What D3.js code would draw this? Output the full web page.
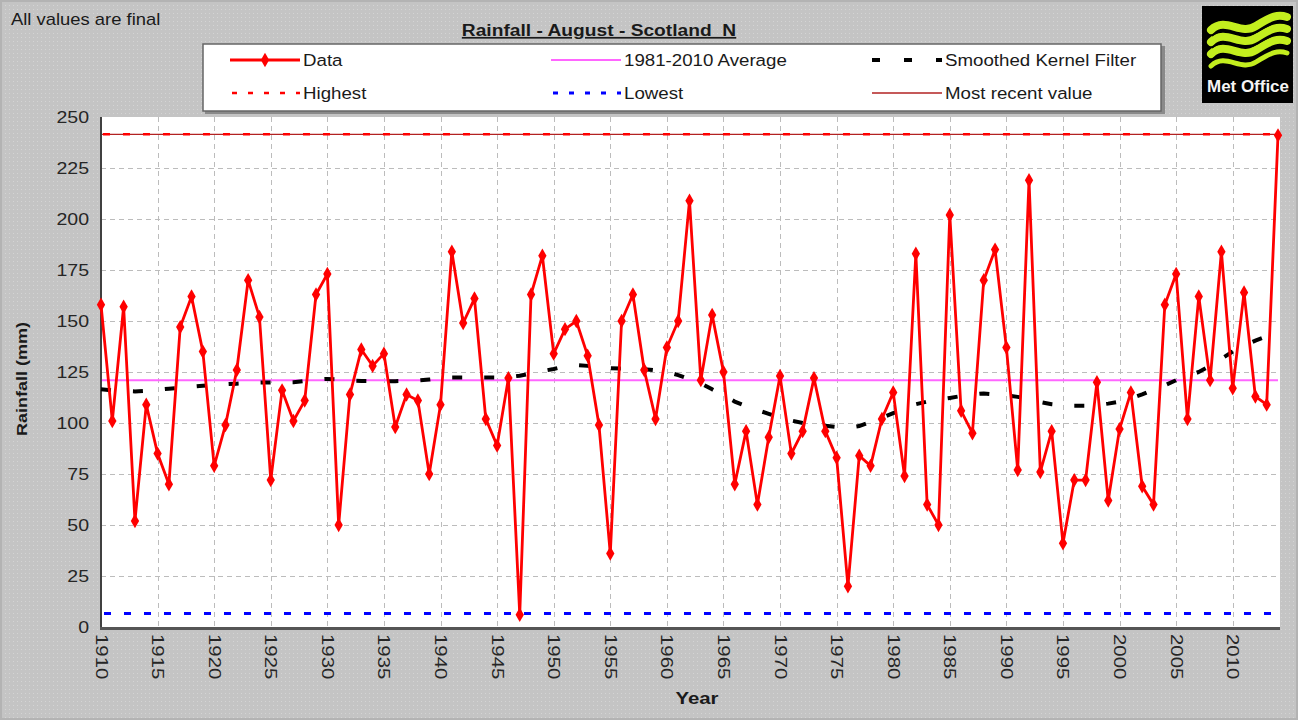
<!DOCTYPE html>
<html><head><meta charset="utf-8">
<script src="https://cdn.jsdelivr.net/npm/d3@7"></script>
<style>
body{margin:0;background:#c4c4c4;}
svg{display:block;font-family:"Liberation Sans",Arial,sans-serif;}
</style>
</head><body>
<svg id="c" width="1298" height="720"></svg>
<script>
// ---------- data ----------
const years = d3.range(1910, 2015);
const rainfall = [
 158,101,157, 52,109, 85, 70,147,162,135,
  79, 99,126,170,152, 72,116,101,111,163,
 173, 50,114,136,128,134, 98,114,111, 75,
 109,184,149,161,102, 89,122,  6,163,182,
 134,146,150,133, 99, 36,150,163,126,102,
 137,150,209,121,153,125, 70, 96, 60, 93,
 123, 85, 96,122, 96, 83, 20, 84, 79,102,
 115, 74,183, 60, 50,202,106, 95,170,185,
 137, 77,219, 76, 96, 41, 72, 72,120, 62,
  97,115, 69, 60,158,173,102,162,121,184,
 117,164,113,109,241
];
const smoothed = [
 116.5,116.0,115.7,115.5,115.8,116.3,116.8,117.3,117.8,118.3,
 118.7,119.0,119.3,119.6,119.8,119.9,119.9,120.0,120.6,121.3,
 121.6,121.3,120.8,120.6,120.5,120.5,120.5,120.6,120.8,121.3,
 121.9,122.3,122.3,122.3,122.3,122.3,122.5,123.2,124.3,125.4,
 126.5,127.8,128.4,128.0,127.2,126.8,126.7,126.7,126.4,125.8,
 125.0,123.5,121.5,119.5,116.5,113.5,110.5,108.3,106.3,104.5,
 102.5,101.2,100.0, 99.2, 98.6, 98.0, 97.6, 98.5,100.5,102.5,
 104.8,107.2,109.2,110.5,111.5,112.3,113.2,114.0,114.5,114.0,
 113.5,112.8,111.7,110.3,109.2,108.6,108.4,108.4,108.8,109.5,
 110.5,112.0,114.0,116.3,118.5,121.0,123.0,125.0,128.0,131.5,
 135.0,138.0,140.4,142.5,144.5
];
const average1981_2010 = 121;
const highest = 241.5;
const lowest = 6.6;
const mostRecent = 241.5;
const yTicks = [0,25,50,75,100,125,150,175,200,225,250];
const xTicks = [1910,1915,1920,1925,1930,1935,1940,1945,1950,1955,1960,1965,1970,1975,1980,1985,1990,1995,2000,2005,2010];
const titleText = "Rainfall - August - Scotland_N";
const noteText = "All values are final";
const yLabel = "Rainfall (mm)";
const xLabel = "Year";
const legendNames = ["Data","1981-2010 Average","Smoothed Kernel Filter","Highest","Lowest","Most recent value"];

// ---------- layout ----------
const svg = d3.select("#c");
const W = 1298, H = 720;
const P = {left:101, right:1278, top:117, bottom:627};
const TXT = "#262626";

const defs = svg.append("defs");
const pat = defs.append("pattern").attr("id","dots").attr("width",4).attr("height",4).attr("patternUnits","userSpaceOnUse");
pat.append("rect").attr("width",4).attr("height",4).attr("fill","#c4c4c4");
pat.append("rect").attr("x",1).attr("y",1).attr("width",1).attr("height",1).attr("fill","#d4d4d4");

svg.append("rect").attr("width",W).attr("height",H).attr("fill","url(#dots)");
svg.append("rect").attr("x",1).attr("y",1).attr("width",W-2).attr("height",H-2).attr("fill","none").attr("stroke","#b3b3b3").attr("stroke-width",2);

const x = d3.scaleLinear().domain([1910, 2014]).range([P.left, P.right]);
const y = d3.scaleLinear().domain([0, 250]).range([P.bottom, P.top]);

// helper for horizontally stretched text
function stext(parent, tx, ty, sx, size, str, opts={}){
  const t = parent.append("text")
    .attr("transform",`translate(${tx},${ty})${opts.rot?` rotate(${opts.rot})`:""} scale(${sx},1)`)
    .attr("font-size",size).attr("fill",opts.fill||TXT)
    .attr("text-anchor",opts.anchor||"start")
    .text(str);
  if(opts.bold) t.attr("font-weight","bold");
  if(opts.underline) t.attr("text-decoration","underline");
  return t;
}

// plot area
svg.append("rect").attr("x",P.left).attr("y",P.top).attr("width",P.right-P.left+2).attr("height",P.bottom-P.top).attr("fill","#ffffff");

// gridlines
const grid = svg.append("g").attr("stroke","#bcbcbc").attr("stroke-width",1).attr("stroke-dasharray","5,4");
grid.selectAll("line.h").data(yTicks.filter(d=>d>0 && d<250)).join("line")
  .attr("x1",P.left).attr("x2",P.right+2).attr("y1",d=>y(d)+0.5).attr("y2",d=>y(d)+0.5);
grid.selectAll("line.v").data(xTicks.filter(d=>d>1910)).join("line")
  .attr("x1",d=>Math.round(x(d))+0.5).attr("x2",d=>Math.round(x(d))+0.5).attr("y1",P.top).attr("y2",P.bottom);

// axes lines
svg.append("line").attr("x1",P.left).attr("x2",P.left).attr("y1",P.top).attr("y2",P.bottom+1).attr("stroke","#404040").attr("stroke-width",2);
svg.append("line").attr("x1",P.left-1).attr("x2",P.right+2).attr("y1",P.bottom+1.5).attr("y2",P.bottom+1.5).attr("stroke","#555").attr("stroke-width",3);

// y tick labels
const SY = 1.15;
const yAxis = d3.axisLeft(y).tickValues(yTicks).tickSize(0).tickPadding(0);
const gy = svg.append("g").attr("transform",`translate(${P.left},0)`).call(yAxis);
gy.select(".domain").remove();
gy.selectAll("text").attr("font-size",17).attr("fill",TXT).attr("font-family","Liberation Sans, Arial, sans-serif")
  .attr("x",null).attr("dy","0.35em")
  .attr("transform",`translate(-12,0) scale(${SY},1)`);

// x tick labels rotated
const xAxis = d3.axisBottom(x).tickValues(xTicks).tickSize(0).tickFormat(d3.format("d"));
const gx = svg.append("g").attr("transform",`translate(0,${P.bottom})`).call(xAxis);
gx.select(".domain").remove();
gx.selectAll("text").attr("font-size",17).attr("fill",TXT).attr("font-family","Liberation Sans, Arial, sans-serif")
  .attr("text-anchor","start").attr("dy",null).attr("y",0)
  .attr("transform","translate(-6,7) rotate(90) scale(1.2,1)");

// axis titles
stext(svg, 697, 704, 1.2, 17, xLabel, {bold:true, anchor:"middle", fill:"#1a1a1a"});
stext(svg, 27, 379, 1.2, 15, yLabel, {bold:true, anchor:"middle", rot:-90, fill:"#1a1a1a"});

// reference lines
svg.append("line").attr("x1",P.left+1).attr("x2",P.right).attr("y1",y(average1981_2010)).attr("y2",y(average1981_2010)).attr("stroke","#ff66ff").attr("stroke-width",2);
svg.append("line").attr("x1",P.left+1).attr("x2",P.right).attr("y1",y(mostRecent)).attr("y2",y(mostRecent)).attr("stroke","#b22222").attr("stroke-width",1.2);
svg.append("line").attr("x1",P.left+2).attr("x2",P.right).attr("y1",y(highest)).attr("y2",y(highest)).attr("stroke","#ff0000").attr("stroke-width",2.5).attr("stroke-dasharray","7,13");
svg.append("line").attr("x1",P.left+3).attr("x2",P.right).attr("y1",y(lowest)).attr("y2",y(lowest)).attr("stroke","#0000ff").attr("stroke-width",3).attr("stroke-dasharray","7,13");

// smoothed kernel filter
svg.append("path").datum(smoothed)
  .attr("d", d3.line().x((d,i)=>x(years[i])).y(d=>y(d)))
  .attr("fill","none").attr("stroke","#000").attr("stroke-width",4).attr("stroke-dasharray","10,22");

// data line
svg.append("path").datum(rainfall)
  .attr("d", d3.line().x((d,i)=>x(years[i])).y(d=>y(d)))
  .attr("fill","none").attr("stroke","#ff0000").attr("stroke-width",2.8).attr("stroke-linejoin","miter");
const diamond = d3.symbol().type(d3.symbolDiamond).size(60);
svg.append("g").selectAll("path").data(rainfall).join("path")
  .attr("transform",(d,i)=>`translate(${x(years[i])},${y(d)})`)
  .attr("d",diamond).attr("fill","#ff0000");

// title & note
stext(svg, 11, 25, 1.15, 16, noteText, {fill:"#1a1a1a"});
stext(svg, 599, 36, 1.13, 17, titleText, {bold:true, underline:true, anchor:"middle", fill:"#1a1a1a"});

// legend
const L = svg.append("g");
L.append("rect").attr("x",205).attr("y",46).attr("width",960).attr("height",68).attr("fill","#8a8a8a");
L.append("rect").attr("x",203).attr("y",44).attr("width",958).attr("height",67).attr("fill","#fff").attr("stroke","#666").attr("stroke-width",1.5);
const lx = [230, 551, 872], ly = [60, 93];
const lw = 70;
// Data
L.append("line").attr("x1",lx[0]).attr("x2",lx[0]+lw).attr("y1",ly[0]).attr("y2",ly[0]).attr("stroke","#ff0000").attr("stroke-width",2.8);
L.append("path").attr("transform",`translate(${lx[0]+lw/2},${ly[0]})`).attr("d",diamond).attr("fill","#ff0000");
// Average
L.append("line").attr("x1",lx[1]).attr("x2",lx[1]+lw).attr("y1",ly[0]).attr("y2",ly[0]).attr("stroke","#ff66ff").attr("stroke-width",2);
// Smoothed
L.append("line").attr("x1",lx[2]).attr("x2",lx[2]+lw).attr("y1",ly[0]).attr("y2",ly[0]).attr("stroke","#000").attr("stroke-width",4).attr("stroke-dasharray","8,24");
// Highest
L.append("line").attr("x1",lx[0]+2).attr("x2",lx[0]+lw).attr("y1",ly[1]).attr("y2",ly[1]).attr("stroke","#ff0000").attr("stroke-width",2.5).attr("stroke-dasharray","5,11");
// Lowest
L.append("line").attr("x1",lx[1]+2).attr("x2",lx[1]+lw).attr("y1",ly[1]).attr("y2",ly[1]).attr("stroke","#0000ff").attr("stroke-width",3).attr("stroke-dasharray","5,11");
// Most recent
L.append("line").attr("x1",lx[2]).attr("x2",lx[2]+lw).attr("y1",ly[1]).attr("y2",ly[1]).attr("stroke","#b22222").attr("stroke-width",1.5);
legendNames.forEach((n,i)=>{
  stext(L, lx[i%3]+lw+3, ly[Math.floor(i/3)]+6, 1.1, 17, n, {fill:"#1a1a1a"});
});

// Met Office logo
const G = svg.append("g");
G.append("rect").attr("x",1202).attr("y",6).attr("width",91).attr("height",97).attr("fill","#000");
const waveY = [26, 38, 50, 62];
waveY.forEach((wy,i)=>{
  G.append("path")
    .attr("d",`M1211,${wy+4} C1226,${wy-10} 1240,${wy+10} 1256,${wy} S1278,${wy-12} 1287,${wy-9}`)
    .attr("fill","none").attr("stroke","#c3ee1e").attr("stroke-width",i===3?5:8).attr("stroke-linecap","round");
});
waveY.slice(0,3).forEach(wy=>{
  G.append("path")
    .attr("d",`M1212,${wy+10} C1227,${wy-4} 1241,${wy+16} 1257,${wy+6} S1279,${wy-6} 1288,${wy-3}`)
    .attr("fill","none").attr("stroke","#000").attr("stroke-width",1.6);
});
G.append("text").attr("x",1248).attr("y",92).attr("text-anchor","middle").attr("font-size",17).attr("font-weight","bold").attr("fill","#f4f4f4")
  .attr("textLength",82).attr("lengthAdjust","spacingAndGlyphs").text("Met Office");
</script>
</body></html>
